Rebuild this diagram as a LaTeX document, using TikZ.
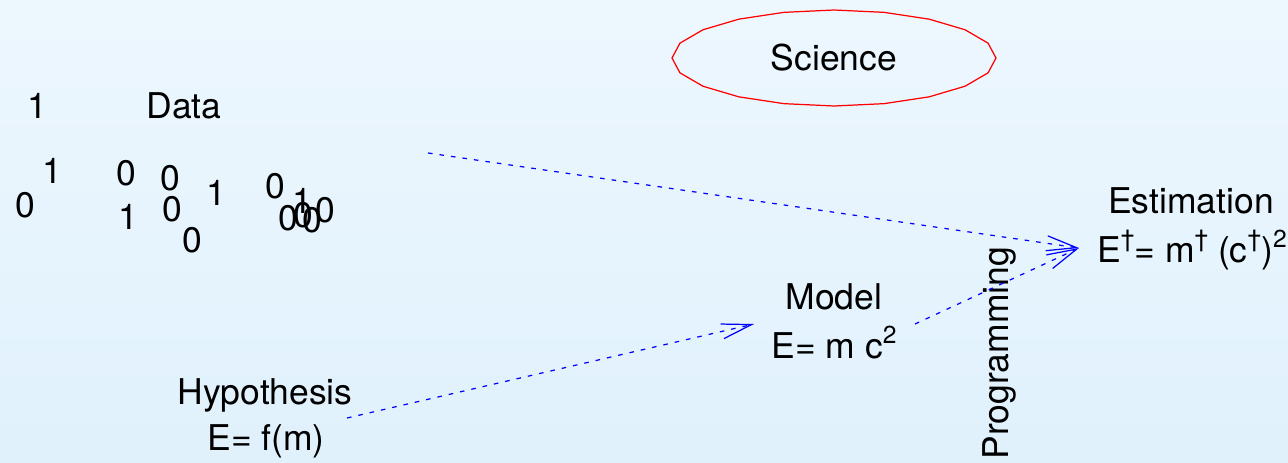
\documentclass[tikz,border=0pt]{standalone}
\usepackage{fontspec}
\setmainfont{TeX Gyre Heros}
\usepackage{tikz}
\usetikzlibrary{
arrows.meta,
positioning,
calc
}

\definecolor{bgtop}{RGB}{237,247,254}
\definecolor{bgbottom}{RGB}{224,241,252}
\newcommand{\upidx}[1]{\raisebox{8pt}{\fontsize{14}{14}\selectfont #1}}

\begin{document}
\begin{tikzpicture}[
x=0.02cm,
y=-0.02cm,
every node/.style={
inner sep=0pt,
font=\fontsize{20.2}{24}\selectfont
},
digit/.style={anchor=center},
caption/.style={anchor=base},
flow/.style={
draw=blue,
line width=0.7pt,
dash pattern=on 2.6pt off 4pt,
-{Straight Barb[length=0.6cm,angle'=28]}
},
sciline/.style={draw=red,line width=0.7pt}
]

\useasboundingbox (0,0) rectangle (1288,463);
\shade[top color=bgtop,bottom color=bgbottom] (0,0) rectangle (1288,463);

\node[digit] (top1) at (37,106) {1};
\node[caption] (data) at (184,118) {Data};
\foreach \dx/\dy/\dv [count=\i] in {
52/171/1, 25/205/0, 126/173/0, 128/217/1, 170/178/0,
172/209/0, 192/240/0, 216/193/1, 275/186/0, 302/201/1,
288/218/0, 303/215/0, 312/220/0, 325/210/0}
\node[digit] (d\i) at (\dx,\dy) {\dv};

\node[caption] (sci) at (834,70) {Science};
\draw[sciline,shift={(834,58)}] plot[domain=0:360,samples=21] ({162*cos(\x)},{48*sin(\x)}) -- cycle;

\node[caption] (hyp) at (265,404) {Hypothesis};
\node[caption] (hypeq) at (266,450) {E= f(m)};
\node[caption] (model) at (834,309) {Model};
\node[caption] (modeleq) at (834,358) {E= m c\upidx{2}};
\node[caption] (est) at (1191,213) {Estimation};
\node[caption] (esteq) at (1192,262) {E\upidx{†}= m\upidx{†} (c\upidx{†})\upidx{2}};
\node[caption,rotate=90,anchor=base west] (prog) at (1008,460) {Programming};

\coordinate (dataout) at (428,153);
\coordinate (hypout) at (347,418);
\coordinate (modelin) at (754,324);
\coordinate (modelout) at (915,324);
\coordinate (estin) at (1079,248);

\draw[flow] (dataout) -- (estin);
\draw[flow] (hypout) -- (modelin);
\draw[flow] (modelout) -- (estin);

\end{tikzpicture}
\end{document}
